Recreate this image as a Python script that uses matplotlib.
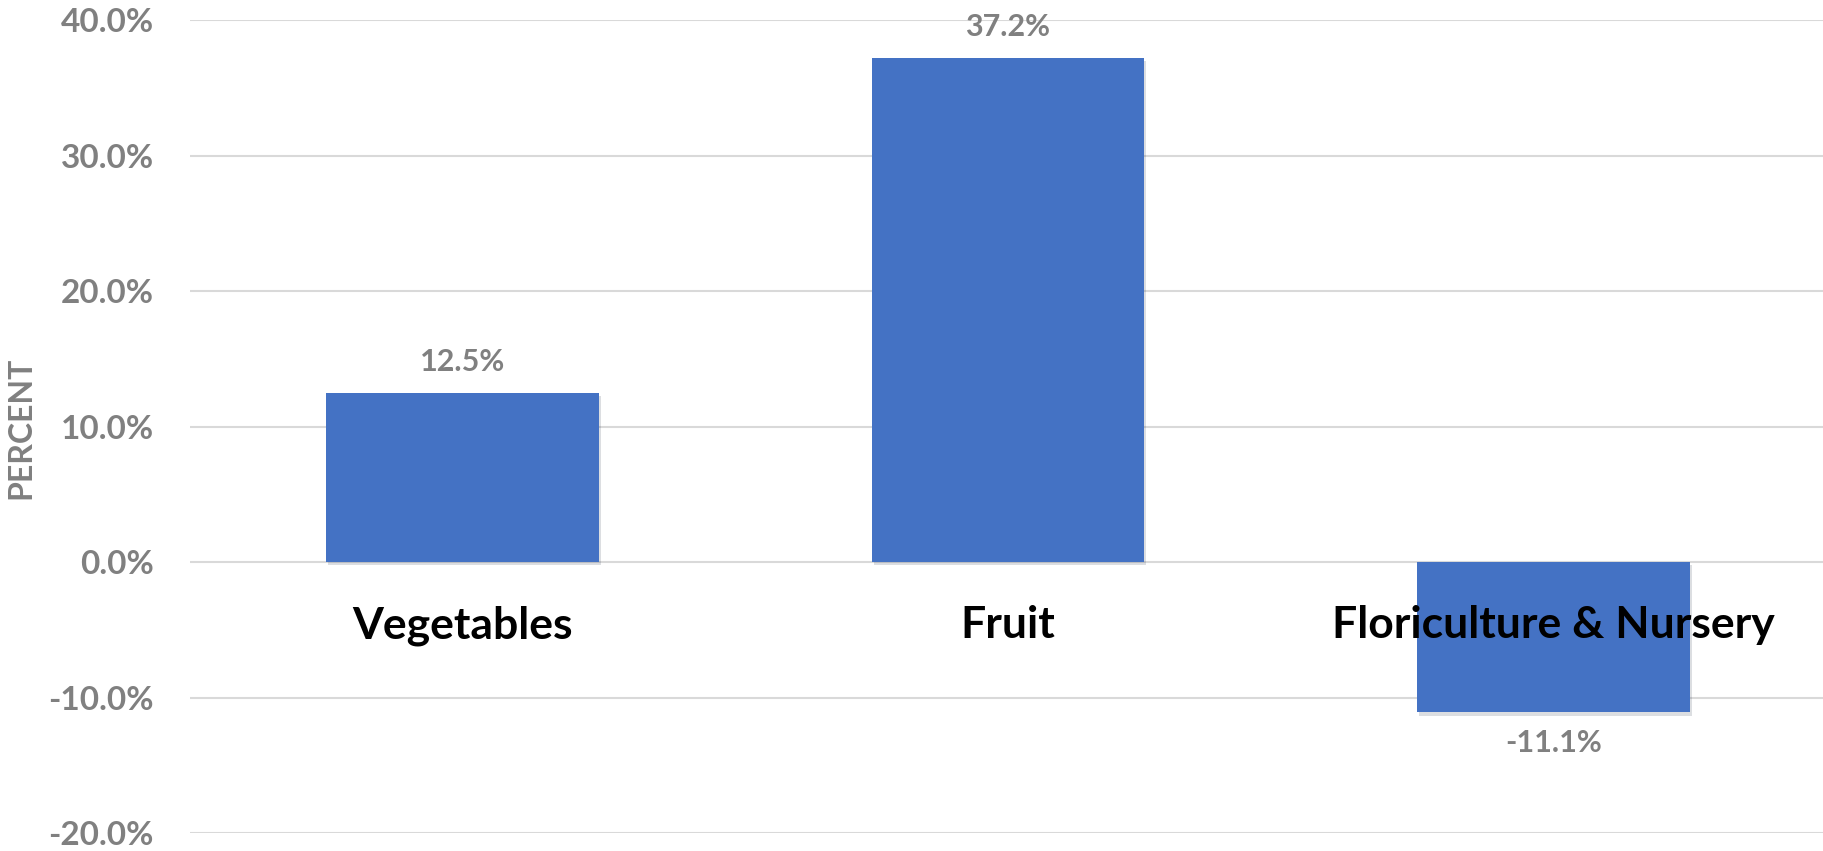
import matplotlib
matplotlib.use("Agg")
import matplotlib.pyplot as plt
import matplotlib.patheffects as pe
from matplotlib.ticker import FuncFormatter

# data
categories = ["Vegetables", "Fruit", "Floriculture & Nursery"]
values = [12.5, 37.2, -11.1]
yticks = [-20, -10, 0, 10, 20, 30, 40]

BAR = "#4472C4"
GRAY = "#808080"
GRID = "#D9D9D9"

plt.rcParams["font.family"] = ["Lato", "DejaVu Sans"]

fig = plt.figure(figsize=(18.24, 8.51), dpi=100)
ax = fig.add_axes([190 / 1824, 1 - 833 / 851, (1826 - 190) / 1824, (833 - 20) / 851])

x = list(range(len(categories)))
bars = ax.bar(x, values, width=0.5, color=BAR, zorder=3)
for b in bars:
    b.set_path_effects([pe.SimplePatchShadow(offset=(1.5, -2.5), alpha=0.15), pe.Normal()])

ax.set_xlim(-0.5, 2.5)
ax.set_ylim(-20, 40)
ax.set_yticks(yticks)
ax.yaxis.set_major_formatter(FuncFormatter(lambda v, p: f"{v:.1f}%"))
ax.grid(axis="y", color=GRID, linewidth=1.5, zorder=0)
ax.set_axisbelow(True)

for s in ["top", "right", "left", "bottom"]:
    ax.spines[s].set_visible(False)

ax.tick_params(axis="y", length=0, pad=26, labelsize=24, labelcolor=GRAY)
for t in ax.get_yticklabels():
    t.set_fontweight("bold")
ax.set_xticks([])

# category labels sit just under the zero line, on top of the bars
for xi, name in zip(x, categories):
    ax.annotate(name, (xi, 0), xytext=(0, -31), textcoords="offset points",
                ha="center", va="top", fontsize=32, fontweight="bold",
                color="black", zorder=6, annotation_clip=False)

# data labels
for xi, v in zip(x, values):
    off = 22 if v >= 0 else -22
    ax.annotate(f"{v:.1f}%", (xi, v), xytext=(0, off), textcoords="offset points",
                ha="center", va="center", fontsize=22, fontweight="bold", color=GRAY)

fig.text(21 / 1824, 1 - 428 / 851, "PERCENT", rotation=90, ha="center", va="center",
         fontsize=23, fontweight="bold", color=GRAY)

fig.savefig("out.png", dpi=100)
